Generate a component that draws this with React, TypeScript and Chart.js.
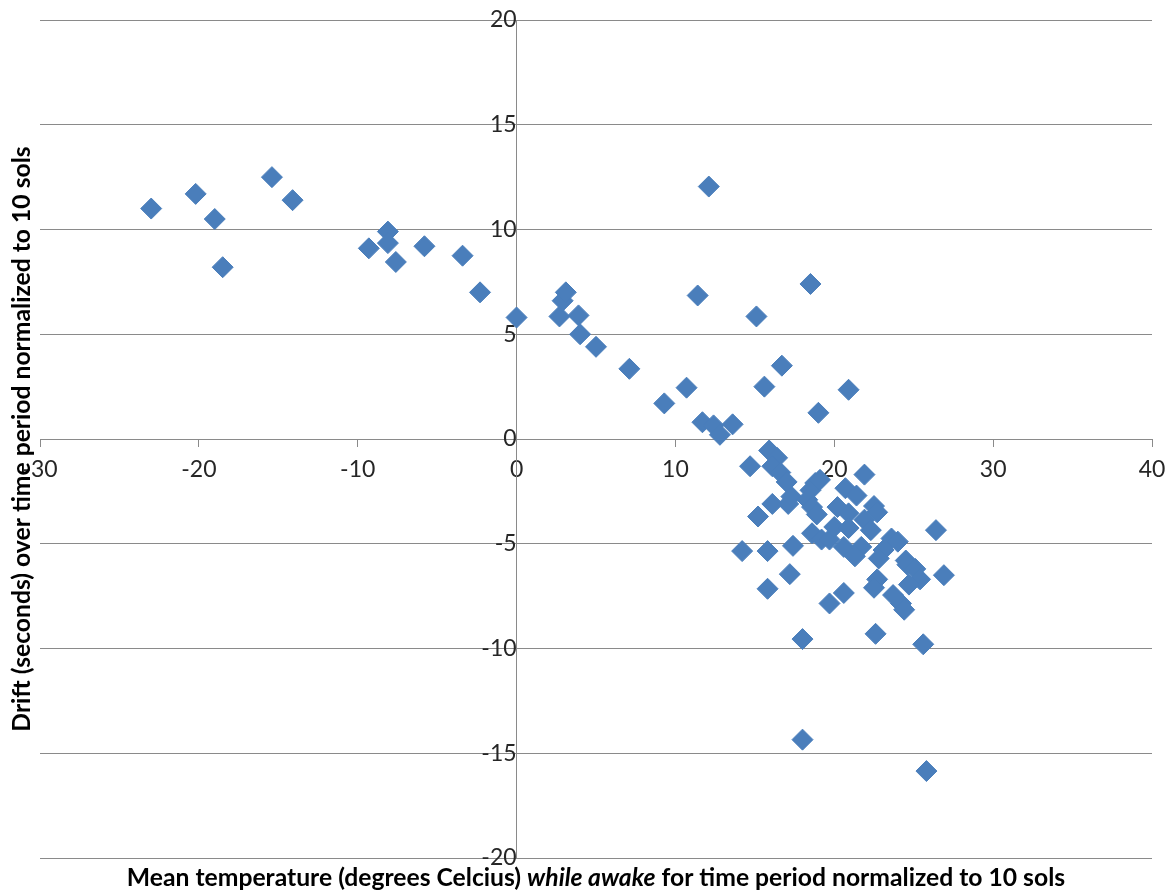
import React, { useEffect, useRef } from 'react';
import { Chart, registerables } from 'chart.js';

Chart.register(...registerables);

// Mean temperature (°C) while awake
const tempValues: number[] = [
  -23.0, -20.2, -19.0, -18.5, -15.4, -14.1, -9.3, -8.1, -8.1, -7.6, -5.8, -3.4, -2.3,
  0.0, 2.7, 2.9, 3.1, 3.9, 4.0, 5.0, 7.1, 9.3, 10.7, 12.1, 11.4, 11.7, 12.4, 12.8, 13.6,
  15.1, 15.6, 16.7, 18.5, 19.0, 20.9,
  14.7, 15.9, 16.4, 16.1, 16.6, 17.0, 15.2, 16.1, 17.1, 17.3, 14.2, 15.8, 17.4, 17.2,
  15.8, 18.0, 18.0, 18.8, 18.5, 18.3, 19.1, 18.6, 18.9, 18.6, 19.2, 19.7,
  21.9, 20.7, 21.4, 20.2, 22.5, 22.7, 20.9, 21.9, 20.0, 20.9, 22.3, 23.6, 24.0,
  20.6, 21.7, 23.1, 21.3, 22.8, 24.5, 26.4, 24.6, 25.1, 25.4, 24.7, 26.9,
  22.7, 22.5, 20.6, 19.7, 23.7, 24.2, 24.4, 22.6, 25.6, 25.8,
];

// Drift (seconds) over time period normalized to 10 sols
const driftValues: number[] = [
  11.0, 11.7, 10.5, 8.2, 12.5, 11.4, 9.1, 9.9, 9.35, 8.45, 9.2, 8.75, 7.0,
  5.8, 5.85, 6.6, 7.0, 5.9, 5.0, 4.4, 3.35, 1.7, 2.45, 12.05, 6.85, 0.8, 0.65, 0.2, 0.7,
  5.85, 2.5, 3.5, 7.4, 1.25, 2.35,
  -1.3, -0.55, -0.9, -1.3, -1.6, -2.05, -3.7, -3.1, -3.1, -2.75, -5.35, -5.35, -5.1, -6.45,
  -7.15, -9.55, -14.35, -2.1, -2.45, -2.9, -1.95, -3.25, -3.6, -4.5, -4.8, -4.8,
  -1.7, -2.35, -2.7, -3.25, -3.2, -3.5, -3.55, -3.85, -4.2, -4.25, -4.35, -4.75, -4.9,
  -5.15, -5.15, -5.3, -5.6, -5.7, -5.8, -4.35, -6.0, -6.2, -6.7, -6.95, -6.5,
  -6.7, -7.1, -7.35, -7.85, -7.45, -7.85, -8.15, -9.3, -9.8, -15.85,
];

const xAxisRange = { min: -30, max: 40, step: 10 };
const yAxisRange = { min: -20, max: 20, step: 5 };

const yTitle = 'Drift (seconds) over time period normalized to 10 sols';
const xTitleParts = [
  { text: 'Mean temperature (degrees Celcius) ', italic: false },
  { text: 'while awake', italic: true },
  { text: ' for time period normalized to 10 sols', italic: false },
];

const FONT = "Lato, 'Open Sans', 'Noto Sans', sans-serif";
const GRID = '#8a8a8a';
const BLUE = '#4A7EBB';

const titlesPlugin = {
  id: 'axisTitles',
  afterDraw(chart: any) {
    const { ctx, chartArea } = chart;
    ctx.save();
    ctx.fillStyle = '#000';
    ctx.textBaseline = 'middle';

    // X title (mixed italic)
    const size = 24.7;
    const fonts = xTitleParts.map(
      (p) => `${p.italic ? 'italic ' : ''}bold ${size}px ${FONT}`
    );
    let total = 0;
    const widths = xTitleParts.map((p, i) => {
      ctx.font = fonts[i];
      const w = ctx.measureText(p.text).width;
      total += w;
      return w;
    });
    let x = (chartArea.left + chartArea.right) / 2 - total / 2;
    const y = 878;
    ctx.textAlign = 'left';
    xTitleParts.forEach((p, i) => {
      ctx.font = fonts[i];
      ctx.fillText(p.text, x, y);
      x += widths[i];
    });

    // Y title (rotated)
    ctx.translate(22, (chartArea.top + chartArea.bottom) / 2);
    ctx.rotate(-Math.PI / 2);
    ctx.textAlign = 'center';
    ctx.font = `bold ${size}px ${FONT}`;
    ctx.fillText(yTitle, 0, 0);
    ctx.restore();
  },
};

export default function App() {
  const canvasRef = useRef<HTMLCanvasElement | null>(null);

  useEffect(() => {
    if (!canvasRef.current) return;
    const points = tempValues.map((t, i) => ({ x: t, y: driftValues[i] }));
    const chart = new Chart(canvasRef.current, {
      type: 'scatter',
      data: {
        datasets: [
          {
            label: 'Drift',
            data: points,
            pointStyle: 'rectRot',
            pointRadius: 10.5,
            pointHoverRadius: 10.5,
            backgroundColor: BLUE,
            borderColor: BLUE,
            borderWidth: 1,
          },
        ],
      },
      options: {
        responsive: false,
        animation: false,
        events: [],
        layout: { padding: { left: 40, right: 17, top: 20, bottom: 34 } },
        plugins: {
          legend: { display: false },
          tooltip: { enabled: false },
          title: { display: false },
        },
        scales: {
          x: {
            type: 'linear',
            min: xAxisRange.min,
            max: xAxisRange.max,
            position: { y: 0 } as any,
            afterFit: (scale: any) => {
              scale.paddingLeft = 0;
              scale.paddingRight = 0;
              scale.paddingTop = 0;
              scale.paddingBottom = 0;
            },
            ticks: {
              stepSize: xAxisRange.step,
              autoSkip: false,
              maxRotation: 0,
              color: '#262626',
              font: { family: FONT, size: 23 },
              padding: 10,
            },
            grid: {
              drawOnChartArea: false,
              drawTicks: true,
              tickLength: 7,
              color: GRID,
            },
            border: { display: true, color: GRID, width: 1 },
          },
          y: {
            type: 'linear',
            min: yAxisRange.min,
            max: yAxisRange.max,
            position: { x: 0 } as any,
            afterFit: (scale: any) => {
              scale.paddingLeft = 0;
              scale.paddingRight = 0;
              scale.paddingTop = 0;
              scale.paddingBottom = 0;
            },
            ticks: {
              stepSize: yAxisRange.step,
              autoSkip: false,
              color: '#262626',
              font: { family: FONT, size: 23 },
              padding: 16,
            },
            grid: {
              drawOnChartArea: true,
              drawTicks: true,
              tickLength: 7,
              color: GRID,
            },
            border: { display: true, color: GRID, width: 1 },
          },
        },
      },
      plugins: [titlesPlugin],
    });
    return () => chart.destroy();
  }, []);

  return (
    <div style={{ position: 'fixed', left: 0, top: 0, width: 1169, height: 892, background: '#fff' }}>
      <canvas ref={canvasRef} width={1169} height={892} />
    </div>
  );
}
